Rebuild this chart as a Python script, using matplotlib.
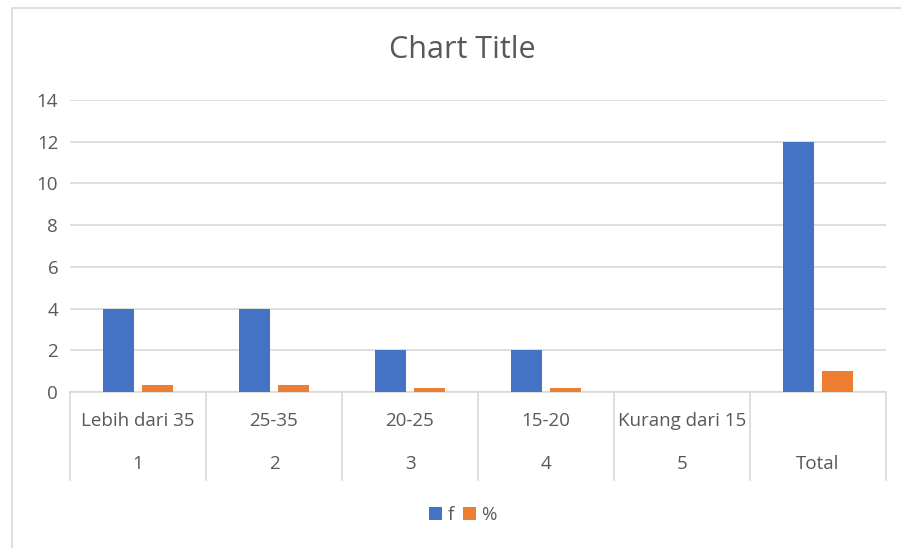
import matplotlib
matplotlib.use('Agg')
import matplotlib.pyplot as plt
from matplotlib.patches import Rectangle
import numpy as np

plt.rcParams['font.family'] = ['Open Sans', 'DejaVu Sans']

# data
ranges = ["Lebih dari 35", "25-35", "20-25", "15-20", "Kurang dari 15", ""]
groups = ["1", "2", "3", "4", "5", "Total"]
f_vals = [4, 4, 2, 2, 0, 12]
pct_vals = [0.33, 0.33, 0.17, 0.17, 0, 1.0]
yticks = [0, 2, 4, 6, 8, 10, 12, 14]

BLUE = "#4472c4"
ORANGE = "#ed7d31"
TEXT = "#595959"
GRID = "#d9d9d9"

W, H = 901, 548
fig = plt.figure(figsize=(W / 100, H / 100), dpi=100)

# chart border (bottom edge is cropped off in the original)
fig.patches.append(Rectangle((12 / W, -0.05), 1, 1.05 - 8 / H, transform=fig.transFigure,
                             fill=False, edgecolor=GRID, linewidth=1.2))

ax = fig.add_axes([70 / W, 156 / H, 816 / W, 292 / H])
x = np.arange(len(groups))
bw = 0.228
ax.bar(x - 0.145, f_vals, width=bw, color=BLUE, label="f", zorder=3)
ax.bar(x + 0.145, pct_vals, width=bw, color=ORANGE, label="%", zorder=3)

ax.set_xlim(-0.5, len(groups) - 0.5)
ax.set_ylim(0, 14)
ax.set_yticks(yticks)
ax.yaxis.grid(True, color=GRID, linewidth=1.2, zorder=0)
ax.tick_params(axis='y', length=0, labelsize=13.5, labelcolor=TEXT, pad=8.5)
ax.set_xticks([])
for s in ["top", "right", "left"]:
    ax.spines[s].set_visible(False)
ax.spines["bottom"].set_color(GRID)
ax.spines["bottom"].set_linewidth(1.2)

# two-level category axis
trans = ax.get_xaxis_transform()
sep_depth = -88 / 292
for b in np.arange(len(groups) + 1) - 0.5:
    ax.plot([b, b], [0, sep_depth], transform=trans, color=GRID,
            linewidth=1.2, clip_on=False)
for i in range(len(groups)):
    ax.text(i, -29 / 292, ranges[i], transform=trans, ha='center', va='center',
            fontsize=13.5, color=TEXT)
    ax.text(i, -72 / 292, groups[i], transform=trans, ha='center', va='center',
            fontsize=13.5, color=TEXT)

fig.text(462 / W, 1 - 50 / H, "Chart Title", ha='center', va='center',
         fontsize=22, color=TEXT)

fig.legend(loc='center', bbox_to_anchor=(463 / W, 1 - 515 / H), ncol=2,
           frameon=False, fontsize=13.5, handlelength=0.7, handleheight=0.7,
           handletextpad=0.3, columnspacing=0.45, labelcolor=TEXT)

fig.savefig("out.png", dpi=100)
